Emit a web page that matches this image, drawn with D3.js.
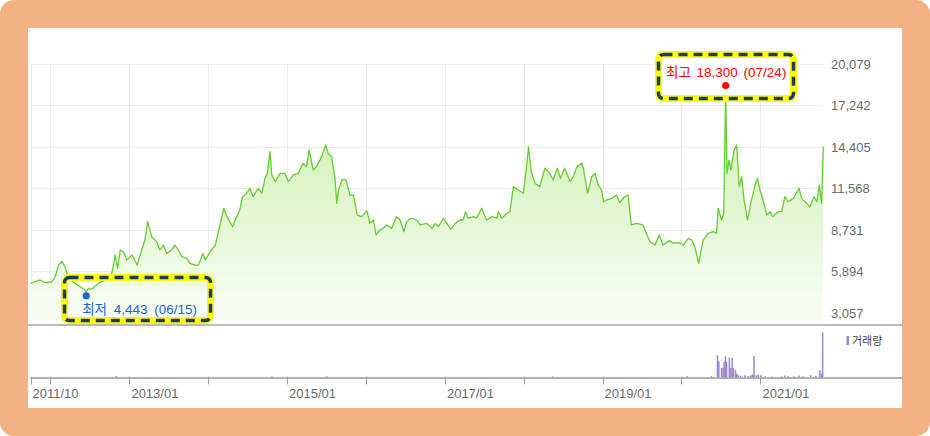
<!DOCTYPE html>
<html>
<head>
<meta charset="utf-8">
<script src="https://cdn.jsdelivr.net/npm/d3@7"></script>
<style>
  html, body { margin: 0; padding: 0; background: #fff; }
  svg { display: block; font-family: "Liberation Sans", "Noto Sans CJK KR", sans-serif; }
</style>
</head>
<body>
<div id="chart"></div>
<script>
// daily close (won)
const priceData = [
  ['2011-10-01', 5050], ['2011-11-15', 5280], ['2011-12-08', 5090], ['2012-01-08', 5160], ['2012-01-23', 5500],
  ['2012-02-08', 6300], ['2012-02-23', 6530], ['2012-03-09', 6190], ['2012-03-24', 5400], ['2012-04-24', 5050],
  ['2012-05-20', 4800], ['2012-06-05', 4650], ['2012-06-15', 4443], ['2012-06-25', 4700], ['2012-07-10', 4640],
  ['2012-08-11', 5050], ['2012-08-26', 5160],
  ['2012-09-19', 5280], ['2012-10-12', 5740], ['2012-10-27', 6990], ['2012-11-07', 6080], ['2012-11-20', 7330],
  ['2012-12-05', 7210], ['2012-12-20', 6650],
  ['2013-01-13', 6990], ['2013-02-06', 6300], ['2013-02-27', 7330], ['2013-03-14', 8010], ['2013-03-26', 9260],
  ['2013-04-14', 8240], ['2013-05-07', 7900], ['2013-05-22', 7330], ['2013-06-07', 7670], ['2013-06-23', 7100],
  ['2013-07-16', 7330], ['2013-07-30', 7670], ['2013-08-16', 7330], ['2013-09-01', 6870], ['2013-09-24', 6760],
  ['2013-10-09', 6420], ['2013-11-02', 6300], ['2013-11-17', 6300], ['2013-12-07', 7100], ['2013-12-18', 6650],
  ['2014-01-10', 7210], ['2014-02-03', 7670], ['2014-02-26', 9150], ['2014-03-14', 10180], ['2014-03-29', 9610],
  ['2014-04-24', 8920], ['2014-05-09', 9500], ['2014-05-27', 10060], ['2014-06-09', 10970], ['2014-06-28', 11210],
  ['2014-07-13', 11550], ['2014-07-28', 10970], ['2014-08-21', 11550], ['2014-09-06', 11210], ['2014-09-21', 12230],
  ['2014-10-02', 12570], ['2014-10-14', 14050], ['2014-10-22', 12460], ['2014-11-07', 12000], ['2014-11-29', 12570],
  ['2014-12-22', 12570],
  ['2015-01-07', 12000], ['2015-01-30', 12460], ['2015-02-22', 12570], ['2015-03-16', 13260], ['2015-04-01', 13030],
  ['2015-04-13', 14170], ['2015-05-02', 12800], ['2015-05-17', 13030], ['2015-06-10', 13710], ['2015-06-29', 14510],
  ['2015-07-10', 13940], ['2015-07-26', 13710], ['2015-08-11', 12230], ['2015-08-19', 10520], ['2015-08-26', 11320],
  ['2015-09-11', 12120], ['2015-10-01', 12120], ['2015-10-19', 11090], ['2015-11-04', 11090], ['2015-11-22', 9720],
  ['2015-12-12', 9610],
  ['2016-01-05', 10020], ['2016-01-20', 9150], ['2016-02-05', 9380], ['2016-02-17', 8360], ['2016-03-06', 8700],
  ['2016-03-21', 8810], ['2016-04-06', 9040], ['2016-04-29', 8810], ['2016-05-22', 9610], ['2016-06-07', 9380],
  ['2016-06-25', 8580], ['2016-07-08', 9260], ['2016-07-30', 9500], ['2016-08-23', 9380], ['2016-09-08', 9040],
  ['2016-10-09', 9150], ['2016-11-02', 8810], ['2016-11-17', 9150], ['2016-12-02', 8920], ['2016-12-25', 9500],
  ['2017-01-10', 9150], ['2017-01-28', 8750], ['2017-02-18', 9150], ['2017-03-11', 9380], ['2017-03-26', 9380],
  ['2017-04-07', 9950], ['2017-04-19', 9500], ['2017-05-12', 9610], ['2017-05-27', 9500], ['2017-06-20', 10180],
  ['2017-07-13', 9380], ['2017-08-06', 9610], ['2017-08-29', 9500], ['2017-09-06', 9950], ['2017-09-21', 9500],
  ['2017-10-14', 9840], ['2017-10-29', 9950], ['2017-11-14', 11660], ['2017-12-07', 11430], ['2017-12-30', 11210],
  ['2018-01-12', 12800], ['2018-01-23', 14390], ['2018-02-05', 12680], ['2018-02-22', 11890], ['2018-03-16', 11660],
  ['2018-04-09', 12920], ['2018-05-02', 12570], ['2018-05-17', 12120], ['2018-06-05', 12920], ['2018-06-20', 12230],
  ['2018-07-10', 12920], ['2018-08-03', 12000], ['2018-08-18', 12340], ['2018-09-04', 13030], ['2018-09-27', 13260],
  ['2018-10-04', 12920], ['2018-10-24', 11210], ['2018-11-12', 12340], ['2018-11-27', 12570], ['2018-12-12', 11770],
  ['2018-12-28', 11430],
  ['2019-01-05', 10630], ['2019-01-20', 10750], ['2019-02-12', 10860], ['2019-03-06', 11090], ['2019-03-21', 10580],
  ['2019-04-13', 10970], ['2019-04-29', 11090], ['2019-05-14', 9040], ['2019-06-07', 9150], ['2019-07-07', 9040],
  ['2019-08-08', 7900], ['2019-09-01', 7670], ['2019-09-20', 8360], ['2019-10-08', 7670], ['2019-11-06', 7970],
  ['2019-11-24', 7790], ['2019-12-21', 7830],
  ['2020-01-10', 7670], ['2020-02-02', 8130], ['2020-02-18', 8010], ['2020-03-03', 7560], ['2020-03-21', 6420],
  ['2020-04-11', 8010], ['2020-05-04', 8470], ['2020-05-27', 8580], ['2020-06-12', 8470], ['2020-06-19', 10180],
  ['2020-07-05', 9380], ['2020-07-15', 9840], ['2020-07-24', 18300], ['2020-07-30', 12570], ['2020-08-09', 13480],
  ['2020-08-17', 12800], ['2020-09-01', 14170], ['2020-09-13', 14510], ['2020-09-25', 11660], ['2020-10-06', 12340],
  ['2020-10-17', 10750], ['2020-11-02', 9380], ['2020-11-17', 10520], ['2020-12-07', 11770], ['2020-12-18', 12230],
  ['2020-12-30', 11430],
  ['2021-01-15', 10630], ['2021-01-30', 9720], ['2021-02-15', 9950], ['2021-02-27', 9610], ['2021-03-23', 9950],
  ['2021-04-09', 9950], ['2021-04-24', 10970], ['2021-05-09', 10630], ['2021-06-02', 10860], ['2021-06-29', 11550],
  ['2021-07-10', 10860], ['2021-08-03', 10520], ['2021-08-18', 10290], ['2021-09-06', 10970], ['2021-09-19', 10630],
  ['2021-09-30', 11770], ['2021-10-11', 10520], ['2021-10-19', 14400]
]

// traded volume (shares), only the visible bars
const volumeData = [
  ['2012-11-01', 300000], ['2014-10-23', 200000], ['2015-07-04', 240000], ['2018-05-15', 200000],
  ['2020-01-28', 260000], ['2020-05-19', 260000], ['2020-06-16', 4460000], ['2020-06-22', 3260000],
  ['2020-07-05', 1940000], ['2020-07-12', 1940000], ['2020-07-17', 3140000], ['2020-07-23', 4260000],
  ['2020-07-28', 3140000], ['2020-08-10', 4000000], ['2020-08-16', 1940000], ['2020-08-23', 3940000],
  ['2020-08-28', 1800000], ['2020-09-07', 1460000], ['2020-09-13', 800000], ['2020-09-21', 460000],
  ['2020-10-02', 340000], ['2020-10-21', 460000], ['2020-11-06', 340000], ['2020-11-18', 460000],
  ['2020-11-26', 600000], ['2020-12-02', 4260000], ['2020-12-12', 460000], ['2020-12-22', 600000],
  ['2021-01-03', 460000], ['2021-01-23', 260000], ['2021-02-23', 200000], ['2021-04-09', 260000],
  ['2021-04-24', 400000], ['2021-05-09', 340000], ['2021-06-05', 260000], ['2021-06-29', 400000],
  ['2021-07-17', 260000], ['2021-08-21', 460000], ['2021-09-14', 340000], ['2021-10-03', 1460000],
  ['2021-10-11', 800000], ['2021-10-16', 9000000]
]

const yTicks = [3057, 5894, 8731, 11568, 14405, 17242, 20079]
const xTickDates = ['2011-10-01', '2012-01-01', '2013-01-01', '2014-01-01', '2015-01-01', '2016-01-01',
  '2017-01-01', '2018-01-01', '2019-01-01', '2020-01-01', '2021-01-01']
const xTickLabels = ['2011/10', '', '2013/01', '', '2015/01', '', '2017/01', '', '2019/01', '', '2021/01']
const volumeLegend = '거래량'

const width = 930
const height = 436
const parse = d3.timeParse('%Y-%m-%d')

const prices = priceData.map(d => ({ date: parse(d[0]), value: d[1] }))
const volumes = volumeData.map(d => ({ date: parse(d[0]), value: d[1] }))

// panel geometry
const left = 30.5, right = 823.3
const priceTop = 63.5, priceBottom = 324.5
const volTop = 325, volBottom = 377.5

const x = d3.scaleTime()
    .domain([parse(xTickDates[0]), prices[prices.length - 1].date])
    .range([left, right])

const y = d3.scaleLinear()
    .domain([yTicks[0], yTicks[yTicks.length - 1]])
    .range([312.5, priceTop])

const yVol = d3.scaleLinear()
    .domain([0, 10000000])
    .range([volBottom, volBottom - 50])

const svg = d3.select('#chart').append('svg')
    .attr('width', width)
    .attr('height', height)

// frame
svg.append('rect')
    .attr('width', width).attr('height', height)
    .attr('rx', 14)
    .attr('fill', '#f3b183')
svg.append('rect')
    .attr('x', 28).attr('y', 28)
    .attr('width', 874).attr('height', 380)
    .attr('fill', '#fff')

const defs = svg.append('defs')
const grad = defs.append('linearGradient')
    .attr('id', 'areaFill')
    .attr('gradientUnits', 'userSpaceOnUse')
    .attr('x1', 0).attr('x2', 0)
    .attr('y1', priceTop).attr('y2', priceBottom)
grad.append('stop').attr('offset', 0).attr('stop-color', '#c4eea2')
grad.append('stop').attr('offset', 1).attr('stop-color', '#fafef7')

// grid
const grid = svg.append('g').attr('stroke', '#ececec').attr('stroke-width', 1)
grid.selectAll('.hg')
    .data(yTicks)
  .enter().append('line')
    .attr('x1', left).attr('x2', right)
    .attr('y1', d => Math.round(y(d)) + 0.5)
    .attr('y2', d => Math.round(y(d)) + 0.5)
grid.selectAll('.vg')
    .data(xTickDates)
  .enter().append('line')
    .attr('x1', d => Math.round(x(parse(d))) + 0.5)
    .attr('x2', d => Math.round(x(parse(d))) + 0.5)
    .attr('y1', priceTop).attr('y2', priceBottom)

// price area + line
const area = d3.area()
    .x(d => x(d.date))
    .y0(priceBottom)
    .y1(d => y(d.value))
const line = d3.line()
    .x(d => x(d.date))
    .y(d => y(d.value))

svg.append('path')
    .datum(prices)
    .attr('d', area)
    .attr('fill', 'url(#areaFill)')
svg.append('path')
    .datum(prices)
    .attr('d', line)
    .attr('fill', 'none')
    .attr('stroke', '#66cc33')
    .attr('stroke-width', 1.3)
    .attr('stroke-linejoin', 'round')

// y labels
svg.append('g').selectAll('text')
    .data(yTicks)
  .enter().append('text')
    .attr('x', 831)
    .attr('y', d => y(d) + 5)
    .attr('font-size', 13)
    .attr('fill', '#6b6b6b')
    .text(d => d3.format(',')(d))

// volume bars
svg.append('g').selectAll('rect')
    .data(volumes)
  .enter().append('rect')
    .attr('x', d => x(d.date) - 0.75)
    .attr('width', 1.5)
    .attr('y', d => yVol(d.value))
    .attr('height', d => volBottom - yVol(d.value))
    .attr('fill', '#9b87cf')

// panel lines
svg.append('line')
    .attr('x1', 28).attr('x2', 902)
    .attr('y1', volTop).attr('y2', volTop)
    .attr('stroke', '#a3a3a3').attr('stroke-width', 1.5)
svg.append('line')
    .attr('x1', left).attr('x2', 902)
    .attr('y1', volBottom + 0.5).attr('y2', volBottom + 0.5)
    .attr('stroke', '#9a9a9a').attr('stroke-width', 1.5)

// x ticks + labels
const xt = svg.append('g')
xt.selectAll('line')
    .data(xTickDates)
  .enter().append('line')
    .attr('x1', d => Math.round(x(parse(d))) + 0.5)
    .attr('x2', d => Math.round(x(parse(d))) + 0.5)
    .attr('y1', volBottom - 1).attr('y2', volBottom + 7)
    .attr('stroke', '#a0a0a0')
xt.selectAll('text')
    .data(xTickDates)
  .enter().append('text')
    .attr('x', d => x(parse(d)) + 2)
    .attr('y', 398)
    .attr('font-size', 13)
    .attr('fill', '#6b6b6b')
    .text((d, i) => xTickLabels[i])

// volume legend
svg.append('rect')
    .attr('x', 846.5).attr('y', 336)
    .attr('width', 2.5).attr('height', 9)
    .attr('fill', '#9b87cf')
svg.append('text')
    .attr('x', 852).attr('y', 345)
    .attr('font-size', 11)
    .attr('fill', '#444')
    .text(volumeLegend)

// high / low markers
const hi = prices.reduce((a, b) => (b.value > a.value ? b : a))
const lo = prices.reduce((a, b) => (b.value < a.value ? b : a))
const fmtDay = d3.timeFormat('%m/%d')

function dashedBox (bx, by, bw, bh, fill) {
  svg.append('rect')
      .attr('x', bx).attr('y', by).attr('width', bw).attr('height', bh)
      .attr('rx', 5)
      .attr('fill', fill)
      .attr('stroke', '#ffff00')
      .attr('stroke-width', 7)
  svg.append('rect')
      .attr('x', bx).attr('y', by).attr('width', bw).attr('height', bh)
      .attr('rx', 5)
      .attr('fill', 'none')
      .attr('stroke', '#1d3c63')
      .attr('stroke-width', 3.5)
      .attr('stroke-dasharray', '9 6')
}

dashedBox(658.5, 54.5, 135, 44, '#fff')
svg.append('text')
    .attr('x', x(hi.date) + 0.5)
    .attr('y', 77)
    .attr('text-anchor', 'middle')
    .attr('font-size', 13.5)
    .attr('word-spacing', 2)
    .attr('fill', '#f00')
    .text('최고 ' + d3.format(',')(hi.value) + ' (' + fmtDay(hi.date) + ')')
svg.append('circle')
    .attr('cx', x(hi.date)).attr('cy', y(hi.value) - 4)
    .attr('r', 3.6)
    .attr('fill', '#f00')

dashedBox(64.5, 277.5, 146, 43, 'none')
svg.append('text')
    .attr('x', x(lo.date) - 4)
    .attr('y', 314)
    .attr('font-size', 13.5)
    .attr('word-spacing', 3)
    .attr('fill', '#1f63d2')
    .text('최저 ' + d3.format(',')(lo.value) + ' (' + fmtDay(lo.date) + ')')
svg.append('circle')
    .attr('cx', x(lo.date)).attr('cy', y(lo.value) + 3.5)
    .attr('r', 3.6)
    .attr('fill', '#1f63d2')
</script>
</body>
</html>
